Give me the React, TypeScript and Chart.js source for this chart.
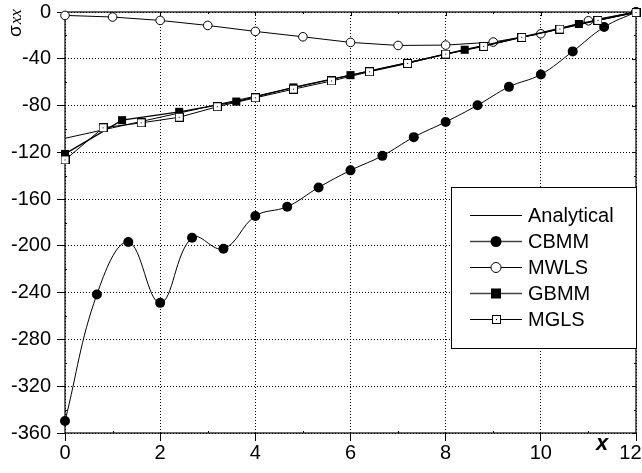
import React, { useEffect, useRef } from 'react';
import { Chart, registerables } from 'chart.js';

Chart.register(...registerables);

const analyticalX = [0, 1, 2, 3, 4, 5, 6, 7, 8, 9, 10, 11, 12];
const analyticalY = [-108, -99, -90, -81, -72, -63, -54, -45, -36, -27, -18, -9, 0];

const cbmmX = [0, 0.67, 1.33, 2, 2.67, 3.33, 4, 4.67, 5.33, 6, 6.67, 7.33, 8, 8.67, 9.33, 10, 10.67, 11.33, 12];
const cbmmY = [-349.8, -241.5, -196.7, -248.7, -193, -202.5, -174.5, -166.5, -150, -135.4, -123, -107, -94, -79.7, -64, -53.4, -33.7, -12.9, 0];

const mwlsX = [0, 1, 2, 3, 4, 5, 6, 7, 8, 9, 10, 11, 12];
const mwlsY = [-2.9, -4.3, -7.2, -11.5, -16.6, -21.2, -26, -28.6, -28.3, -25.7, -18.6, -7.5, 0];

const gbmmX = [0, 1.2, 2.4, 3.6, 4.8, 6, 7.2, 8.4, 9.6, 10.8, 12];
const gbmmY = [-121.4, -92.5, -85.4, -76.6, -64.5, -54, -43.5, -32.3, -21.5, -10.3, 0];

const mglsX = [0, 0.8, 1.6, 2.4, 3.2, 4, 4.8, 5.6, 6.4, 7.2, 8, 8.8, 9.6, 10.4, 11.2, 12];
const mglsY = [-126.5, -99, -94.8, -90, -81, -73.4, -66, -59, -51.1, -44, -36, -29.4, -21.7, -14.6, -7.2, -0.5];

const legendLabels = ['Analytical', 'CBMM', 'MWLS', 'GBMM', 'MGLS'];
const xTickValues = [0, 2, 4, 6, 8, 10, 12];
const yTickValues = [0, -40, -80, -120, -160, -200, -240, -280, -320, -360];

const FONT = '"Liberation Sans", Arial, Helvetica, sans-serif';

function pts(xs: number[], ys: number[]) {
  return xs.map((x, i) => ({ x, y: ys[i] }));
}

function makeMglsImage(): HTMLCanvasElement {
  const c = document.createElement('canvas');
  c.width = 9;
  c.height = 9;
  const g = c.getContext('2d')!;
  g.fillStyle = '#fff';
  g.fillRect(0, 0, 9, 9);
  g.strokeStyle = '#000';
  g.lineWidth = 1;
  g.strokeRect(0.5, 0.5, 8, 8);
  g.fillStyle = '#000';
  g.fillRect(4, 4, 1, 1);
  return c;
}

export default function App() {
  const ref = useRef<HTMLCanvasElement | null>(null);

  useEffect(() => {
    if (!ref.current) return;
    const mglsImg = makeMglsImage();

    const decor = {
      id: 'decor',
      beforeDatasetsDraw(chart: any) {
        const { ctx, chartArea: a, scales } = chart;
        const xs = scales.x;
        const ys = scales.y;
        ctx.save();
        ctx.strokeStyle = '#000';
        ctx.lineWidth = 1.2;
        ctx.strokeRect(a.left, a.top, a.right - a.left, a.bottom - a.top);
        ctx.lineWidth = 1;
        ctx.beginPath();
        for (let v = 0; v >= -360; v -= 20) {
          const py = Math.round(ys.getPixelForValue(v)) + 0.5;
          const major = v % 40 === 0;
          const len = major ? 4 : 2;
          if (!major) {
            ctx.moveTo(a.left, py);
            ctx.lineTo(a.left + 2, py);
          }
          ctx.moveTo(a.right, py);
          ctx.lineTo(a.right - len, py);
        }
        for (let v = 0; v <= 12; v += 1) {
          const px = Math.round(xs.getPixelForValue(v)) + 0.5;
          const major = v % 2 === 0;
          const len = major ? 4 : 2;
          if (!major) {
            ctx.moveTo(px, a.bottom);
            ctx.lineTo(px, a.bottom - 2);
          }
          ctx.moveTo(px, a.top);
          ctx.lineTo(px, a.top + len);
        }
        ctx.stroke();
        ctx.restore();
      },
      afterDatasetsDraw(chart: any) {
        const { ctx, chartArea: a, scales } = chart;
        ctx.save();
        // x tick labels (last one kept inside the canvas)
        ctx.fillStyle = '#000';
        ctx.font = `20px ${FONT}`;
        ctx.textBaseline = 'top';
        xTickValues.forEach((v, i) => {
          const px = scales.x.getPixelForValue(v);
          const txt = String(v);
          const last = i === xTickValues.length - 1;
          ctx.textAlign = last ? 'right' : 'center';
          ctx.fillText(txt, last ? chart.width - 0.5 : px, a.bottom + 10);
        });
        // legend box
        const bx = 451, by = 187, bw = 185, bh = 161;
        ctx.fillStyle = '#fff';
        ctx.fillRect(bx, by, bw, bh);
        ctx.strokeStyle = '#000';
        ctx.lineWidth = 1;
        ctx.strokeRect(bx + 0.5, by + 0.5, bw, bh);
        const rows = [215, 241, 267, 293, 319];
        const x1 = 470, x2 = 522, mx = 496;
        legendLabels.forEach((lab, i) => {
          const y = rows[i];
          ctx.strokeStyle = i === 1 || i === 3 ? '#444' : '#000';
          ctx.lineWidth = i === 1 || i === 3 ? 1.6 : 1;
          ctx.beginPath();
          ctx.moveTo(x1, y + 0.5);
          ctx.lineTo(x2, y + 0.5);
          ctx.stroke();
          ctx.fillStyle = '#000';
          ctx.strokeStyle = '#000';
          ctx.lineWidth = 1;
          if (i === 1) {
            ctx.beginPath();
            ctx.arc(mx, y + 0.5, 5.5, 0, Math.PI * 2);
            ctx.fill();
          } else if (i === 2) {
            ctx.beginPath();
            ctx.arc(mx, y + 0.5, 5, 0, Math.PI * 2);
            ctx.fillStyle = '#fff';
            ctx.fill();
            ctx.stroke();
          } else if (i === 3) {
            ctx.fillRect(mx - 5, y - 4.5, 10, 10);
          } else if (i === 4) {
            ctx.drawImage(mglsImg, mx - 4, y - 4);
          }
          ctx.fillStyle = '#000';
          ctx.font = `20px ${FONT}`;
          ctx.textAlign = 'left';
          ctx.textBaseline = 'middle';
          ctx.fillText(lab, 528, y + 1);
        });
        // y axis title (rotated)
        ctx.save();
        ctx.translate(21, 37);
        ctx.rotate(-Math.PI / 2);
        ctx.textAlign = 'left';
        ctx.textBaseline = 'alphabetic';
        ctx.font = `19px ${FONT}`;
        ctx.fillText('σ', 0, 0);
        const w = ctx.measureText('σ').width;
        ctx.font = 'italic 17px "Liberation Serif", "Times New Roman", serif';
        ctx.fillText('xx', w + 1, 0);
        ctx.restore();
        // x axis title
        ctx.font = `bold italic 22px ${FONT}`;
        ctx.textAlign = 'center';
        ctx.textBaseline = 'middle';
        ctx.fillText('x', 602, 444);
        ctx.restore();
      },
    };

    const chart = new Chart(ref.current, {
      type: 'line',
      data: {
        datasets: [
          {
            label: legendLabels[0],
            data: pts(analyticalX, analyticalY),
            borderColor: '#000',
            borderWidth: 1,
            pointRadius: 0,
            order: 5,
            clip: false as any,
          },
          {
            label: legendLabels[1],
            data: pts(cbmmX, cbmmY),
            borderColor: '#000',
            borderWidth: 1,
            tension: 0.4,
            pointStyle: 'circle',
            pointRadius: 5,
            pointBackgroundColor: '#000',
            pointBorderColor: '#000',
            pointBorderWidth: 0,
            order: 4,
            clip: false as any,
          },
          {
            label: legendLabels[2],
            data: pts(mwlsX, mwlsY),
            borderColor: '#000',
            borderWidth: 1,
            pointStyle: 'circle',
            pointRadius: 4.3,
            pointBackgroundColor: '#fff',
            pointBorderColor: '#000',
            pointBorderWidth: 1,
            order: 3,
            clip: false as any,
          },
          {
            label: legendLabels[3],
            data: pts(gbmmX, gbmmY),
            borderColor: '#000',
            borderWidth: 1.4,
            pointStyle: 'rect',
            pointRadius: 5.7,
            pointBackgroundColor: '#000',
            pointBorderColor: '#000',
            pointBorderWidth: 0,
            order: 2,
            clip: false as any,
          },
          {
            label: legendLabels[4],
            data: pts(mglsX, mglsY),
            borderColor: '#000',
            borderWidth: 1,
            pointStyle: mglsImg as any,
            pointRadius: 4.5,
            order: 1,
            clip: false as any,
          },
        ],
      },
      options: {
        animation: false,
        responsive: false,
        maintainAspectRatio: false,
        layout: { padding: { left: 0, right: 6, top: 12, bottom: 0 } },
        plugins: {
          legend: { display: false },
          tooltip: { enabled: false },
        },
        scales: {
          x: {
            type: 'linear',
            min: 0,
            max: 12,
            afterBuildTicks: (s: any) => {
              s.ticks = xTickValues.map((v) => ({ value: v }));
            },
            afterFit: (s: any) => {
              s.height = 40;
              s.paddingLeft = 0;
              s.paddingRight = 0;
            },
            grid: {
              color: '#000',
              lineWidth: 1,
              drawTicks: true,
              tickLength: 8,
              tickColor: '#000',
              tickBorderDash: [],
            } as any,
            border: { display: false, dash: [1, 2] },
            ticks: {
              display: false,
              font: { family: FONT, size: 20 },
            },
          },
          y: {
            type: 'linear',
            min: -360,
            max: 0,
            afterBuildTicks: (s: any) => {
              s.ticks = yTickValues.map((v) => ({ value: v }));
            },
            afterFit: (s: any) => {
              s.width = 65;
              s.paddingTop = 0;
              s.paddingBottom = 0;
            },
            grid: {
              color: '#000',
              lineWidth: 1,
              drawTicks: true,
              tickLength: 8,
              tickColor: '#000',
              tickBorderDash: [],
            } as any,
            border: { display: false, dash: [1, 2] },
            ticks: {
              color: '#000',
              padding: 6,
              font: { family: FONT, size: 20 },
            },
          },
        },
      },
      plugins: [decor],
    });
    return () => chart.destroy();
  }, []);

  return (
    <div style={{ position: 'fixed', left: 0, top: 0, width: 642, height: 473, background: '#fff' }}>
      <canvas ref={ref} width={642} height={473} style={{ width: 642, height: 473, display: 'block' }} />
    </div>
  );
}
